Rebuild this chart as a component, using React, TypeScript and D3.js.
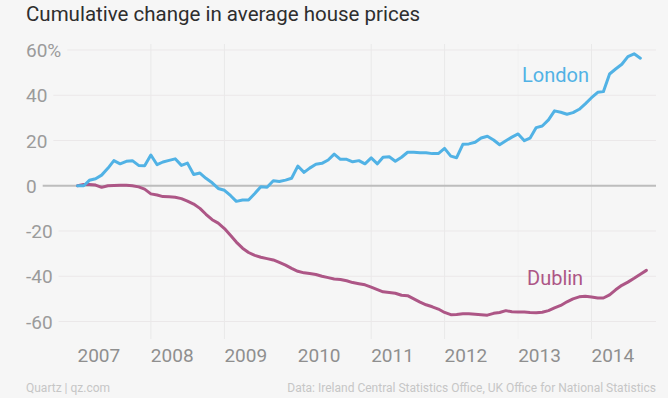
import React, { useEffect, useRef } from 'react';
import * as d3 from 'd3';

// monthly series, Jan 2007 onward (% change since Jan 2007)
const londonValues = [
  0, 0, 2.4, 3.1, 4.7, 7.7, 11.1, 9.7, 10.8, 11.1, 9.0, 8.8,
  13.6, 9.3, 10.5, 11.2, 11.9, 9.0, 10.0, 5.0, 5.6, 3.3, 1.3, -1.2,
  -2.0, -4.4, -6.9, -6.3, -6.3, -3.4, -0.4, -0.7, 2.2, 1.9, 2.5, 3.3,
  8.7, 5.9, 7.8, 9.5, 9.9, 11.4, 14.0, 11.7, 11.7, 10.6, 11.1, 9.7,
  12.3, 9.7, 12.6, 12.8, 10.8, 12.6, 14.8, 14.8, 14.6, 14.6, 14.2, 14.2,
  16.5, 13.1, 12.4, 18.3, 18.5, 19.2, 21.1, 21.9, 20.2, 18.1, 19.9, 21.5,
  22.9, 19.9, 21.0, 25.7, 26.4, 29.1, 33.1, 32.5, 31.6, 32.3, 33.8, 36.2,
  38.9, 41.3, 41.6, 49.4, 51.6, 53.7, 57.1, 58.3, 56.4
];

const dublinValues = [
  0, 0.6, 0.6, 0.3, -0.7, 0, 0.1, 0.2, 0.2, 0, -0.5, -1.5,
  -3.6, -4.1, -4.8, -4.9, -5.1, -5.7, -6.8, -8.1, -10.0, -12.6, -15.0, -16.5,
  -18.9, -22.0, -24.9, -27.6, -29.5, -30.8, -31.6, -32.2, -32.8, -33.9, -35.1, -36.5,
  -37.8, -38.5, -38.8, -39.2, -40.0, -40.6, -41.2, -41.4, -42.0, -42.8, -43.3, -43.8,
  -44.8, -45.9, -46.9, -47.2, -47.5, -48.4, -48.6, -50.0, -51.4, -52.6, -53.5, -54.5,
  -56.0, -57.0, -56.9, -56.6, -56.6, -56.8, -57.0, -57.2, -56.4, -56.0, -55.2, -55.7,
  -55.8, -55.8, -56.0, -56.1, -55.9, -55.2, -54.0, -52.9, -51.3, -50.0, -49.1, -48.8,
  -49.2, -49.6, -49.6, -48.2, -46.0, -44.0, -42.6, -40.9, -39.1, -37.4
];

const yTicks = [60, 40, 20, 0, -20, -40, -60];
const yearLabels = [2007, 2008, 2009, 2010, 2011, 2012, 2013, 2014];
const gridYears = [2008, 2009, 2011, 2012, 2014];
const faintGridYears = [2013];

const toSeries = (vals: number[]) => vals.map((v, i) => ({ date: new Date(2007, i, 1), value: v }));

const App: React.FC = () => {
  const svgRef = useRef<SVGSVGElement>(null);

  useEffect(() => {
    if (!svgRef.current) return;
    document.body.style.margin = '0';
    const svg = d3.select(svgRef.current);
    svg.selectAll('*').remove();

    const W = 668, H = 398;
    const font = 'Roboto, sans-serif';
    const plotRight = 656;

    svg.append('rect').attr('width', W).attr('height', H).attr('fill', '#f6f6f6');

    const x = d3.scaleTime()
      .domain([new Date(2007, 0, 1), new Date(2014, 0, 1)])
      .range([77.5, 591.5]);
    const y = d3.scaleLinear().domain([-60, 60]).range([321.5, 50]);

    // vertical grid
    svg.append('g').selectAll('line')
      .data(gridYears)
      .join('line')
      .attr('x1', d => x(new Date(d, 0, 1))).attr('x2', d => x(new Date(d, 0, 1)))
      .attr('y1', 44).attr('y2', 339)
      .attr('stroke', '#e9e9e9').attr('stroke-width', 1);
    svg.append('g').selectAll('line')
      .data(faintGridYears)
      .join('line')
      .attr('x1', d => x(new Date(d, 0, 1))).attr('x2', d => x(new Date(d, 0, 1)))
      .attr('y1', 44).attr('y2', 339)
      .attr('stroke', '#f1f1f1').attr('stroke-width', 1);

    // y labels + horizontal grid
    const yAxis = svg.append('g');
    yTicks.forEach(t => {
      const label = yAxis.append('text')
        .attr('x', 26).attr('y', y(t) + 7)
        .attr('font-family', font).attr('font-size', 19)
        .attr('fill', '#9b9b9b')
        .text(t === 60 ? '60%' : String(t));
      const w = (label.node() as SVGTextElement).getComputedTextLength();
      yAxis.insert('line', 'text')
        .attr('x1', 26 + w + 6).attr('x2', plotRight)
        .attr('y1', y(t)).attr('y2', y(t))
        .attr('stroke', t === 0 ? '#bdbdbd' : '#ebe8e9')
        .attr('stroke-width', t === 0 ? 2 : 1);
    });

    // x labels
    svg.append('g').selectAll('text')
      .data(yearLabels)
      .join('text')
      .attr('x', d => x(new Date(d, 0, 1)))
      .attr('y', 362)
      .attr('font-family', font).attr('font-size', 19)
      .attr('fill', '#8f8f8f')
      .text(d => d);

    const line = d3.line<{ date: Date; value: number }>()
      .x(d => x(d.date))
      .y(d => y(d.value));

    svg.append('path')
      .datum(toSeries(dublinValues))
      .attr('d', line)
      .attr('fill', 'none').attr('stroke', '#ad5686')
      .attr('stroke-width', 3).attr('stroke-linejoin', 'round').attr('stroke-linecap', 'round');

    svg.append('path')
      .datum(toSeries(londonValues))
      .attr('d', line)
      .attr('fill', 'none').attr('stroke', '#51b2e5')
      .attr('stroke-width', 3).attr('stroke-linejoin', 'round').attr('stroke-linecap', 'round');

    // series labels
    svg.append('text')
      .attr('x', 522).attr('y', 82)
      .attr('font-family', font).attr('font-size', 20)
      .attr('fill', '#51b2e5').text('London');
    svg.append('text')
      .attr('x', 527).attr('y', 285)
      .attr('font-family', font).attr('font-size', 20)
      .attr('fill', '#ad5686').text('Dublin');

    // title
    svg.append('text')
      .attr('x', 26).attr('y', 21)
      .attr('font-family', font).attr('font-size', 20.5)
      .attr('fill', '#2e2e2e')
      .text('Cumulative change in average house prices');

    // footer
    svg.append('text')
      .attr('x', 26).attr('y', 392)
      .attr('font-family', font).attr('font-size', 12)
      .attr('fill', '#c6c6c6')
      .text('Quartz | qz.com');
    svg.append('text')
      .attr('x', plotRight).attr('y', 392)
      .attr('text-anchor', 'end')
      .attr('font-family', font).attr('font-size', 12)
      .attr('fill', '#c6c6c6')
      .text('Data: Ireland Central Statistics Office, UK Office for National Statistics');
  }, []);

  return (
    <div style={{ position: 'absolute', left: 0, top: 0, width: 668, height: 398 }}>
      <svg ref={svgRef} width={668} height={398} style={{ display: 'block' }}></svg>
    </div>
  );
};

export default App;
